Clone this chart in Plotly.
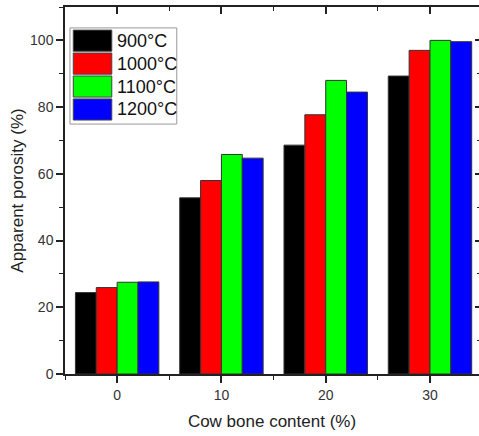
import plotly.graph_objects as go

# Cow bone content (%) and apparent porosity (%) at each firing temperature
bone_content = [0, 10, 20, 30]
temps = ["900°C", "1000°C", "1100°C", "1200°C"]
porosity_900 = [24.4, 52.8, 68.6, 89.3]
porosity_1000 = [25.9, 58.0, 77.7, 97.0]
porosity_1100 = [27.5, 65.8, 88.0, 100.0]
porosity_1200 = [27.6, 64.7, 84.5, 99.6]
colors = ["#000000", "#ff0000", "#00ff00", "#0000ff"]
series = [porosity_900, porosity_1000, porosity_1100, porosity_1200]

FONT = "Arial, 'Liberation Sans', sans-serif"
AXIS_COLOR = "#222222"
X_RANGE = [-5, 34.7]
Y_RANGE = [0, 110]

fig = go.Figure()
for name, vals, col in zip(temps, series, colors):
    fig.add_trace(go.Bar(
        x=bone_content, y=vals, name=name, showlegend=False,
        marker=dict(color=col, line=dict(color="#333333", width=1)),
    ))

# invisible trace so the mirrored top/right axes are drawn
fig.add_trace(go.Scatter(x=[0], y=[0], xaxis="x2", yaxis="y2",
                         mode="markers", marker=dict(opacity=0),
                         showlegend=False, hoverinfo="skip"))

fig.update_layout(
    width=479, height=436,
    margin=dict(l=65, r=0, t=7, b=62),
    paper_bgcolor="white", plot_bgcolor="white",
    barmode="group", bargap=0.2, bargroupgap=0,
    font=dict(family=FONT, color="#333333"),
    xaxis=dict(
        range=X_RANGE, showgrid=False, zeroline=False,
        showline=True, linecolor=AXIS_COLOR, linewidth=1.5,
        ticks="outside", ticklen=7, tickwidth=1.5, tickcolor=AXIS_COLOR,
        tickvals=bone_content, tickfont=dict(size=14, color="#333333"),
        minor=dict(ticks="outside", ticklen=4, tickwidth=1.2,
                   tickcolor=AXIS_COLOR, dtick=5, tick0=5, showgrid=False),
        title=dict(text="Cow bone content (%)", font=dict(size=17, color="#222222"),
                   standoff=14),
    ),
    yaxis=dict(
        range=Y_RANGE, showgrid=False, zeroline=False,
        showline=True, linecolor=AXIS_COLOR, linewidth=1.5,
        ticks="outside", ticklen=7, tickwidth=1.5, tickcolor=AXIS_COLOR,
        tickvals=[0, 20, 40, 60, 80, 100], tickfont=dict(size=14, color="#333333"),
        minor=dict(ticks="outside", ticklen=4, tickwidth=1.2,
                   tickcolor=AXIS_COLOR, dtick=10, tick0=10, showgrid=False),
        title=dict(text="Apparent porosity (%)", font=dict(size=17, color="#222222"),
                   standoff=2),
    ),
    xaxis2=dict(
        overlaying="x", side="top", matches="x", range=X_RANGE,
        showgrid=False, zeroline=False, showticklabels=False,
        showline=True, linecolor=AXIS_COLOR, linewidth=1.5,
        ticks="inside", ticklen=7, tickwidth=1.5, tickcolor=AXIS_COLOR,
        tickvals=bone_content,
        minor=dict(ticks="inside", ticklen=4, tickwidth=1.2,
                   tickcolor=AXIS_COLOR, dtick=5, tick0=5, showgrid=False),
    ),
    yaxis2=dict(
        overlaying="y", side="right", matches="y", range=Y_RANGE,
        showgrid=False, zeroline=False, showticklabels=False,
        showline=False,
        ticks="inside", ticklen=4, tickwidth=1.5, tickcolor=AXIS_COLOR,
        tickvals=[0, 20, 40, 60, 80, 100],
        minor=dict(ticks="inside", ticklen=2, tickwidth=1.2,
                   tickcolor=AXIS_COLOR, dtick=10, tick0=10, showgrid=False),
    ),
)

# Legend drawn as a boxed key with large swatches (paper coordinates)
box_x0, box_x1 = 0.012, 0.270
box_y0, box_y1 = 0.681, 0.943
fig.add_shape(type="rect", xref="paper", yref="paper",
              x0=box_x0, x1=box_x1, y0=box_y0, y1=box_y1,
              line=dict(color="#999999", width=1), fillcolor="white", layer="above")
row_h = (box_y1 - box_y0 - 0.012) / len(temps)
sw_x0, sw_x1 = 0.020, 0.113
for i, (name, col) in enumerate(zip(temps, colors)):
    top = box_y1 - 0.006 - i * row_h
    fig.add_shape(type="rect", xref="paper", yref="paper",
                  x0=sw_x0, x1=sw_x1, y0=top - row_h * 0.92, y1=top,
                  line=dict(color="#444444", width=1), fillcolor=col, layer="above")
    fig.add_annotation(xref="paper", yref="paper",
                       x=sw_x1 + 0.008, y=top - row_h * 0.46,
                       text=name, showarrow=False, xanchor="left", yanchor="middle",
                       font=dict(family=FONT, size=18, color="#111111"))

fig.write_html("out.html")
